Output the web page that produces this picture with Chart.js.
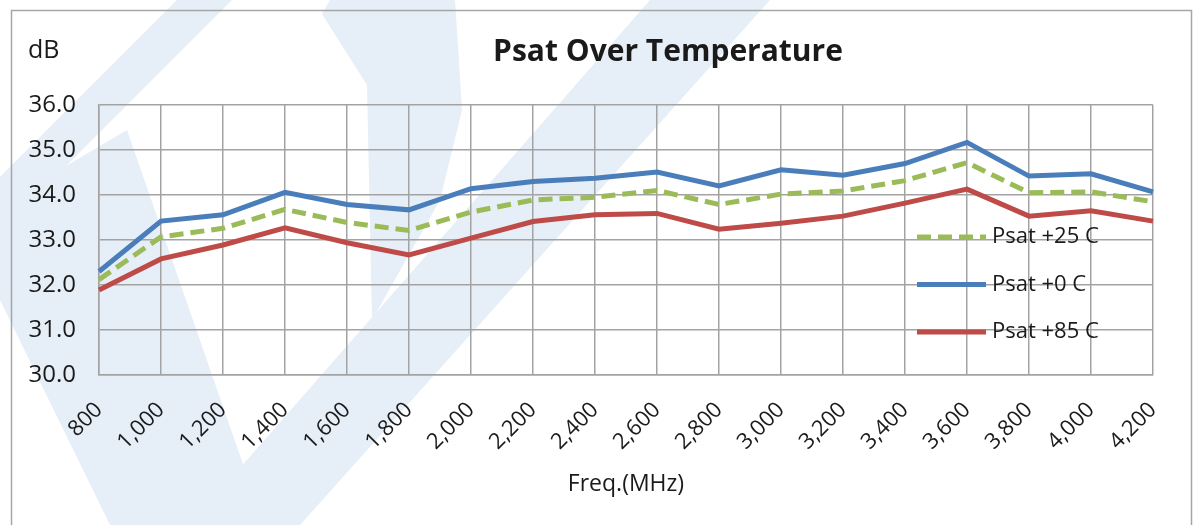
<!DOCTYPE html>
<html>
<head>
<meta charset="utf-8">
<script src="https://cdn.jsdelivr.net/npm/chart.js@4/dist/chart.umd.min.js"></script>
<style>
  html, body { margin: 0; padding: 0; background: #fff; }
  #wrap { position: absolute; left: 0; top: 0; width: 1204px; height: 525px; }
</style>
</head>
<body>
<div id="wrap"><canvas id="chart"></canvas></div>
<script>
// frequency points (MHz)
const freqs = [800, 1000, 1200, 1400, 1600, 1800, 2000, 2200, 2400, 2600, 2800, 3000, 3200, 3400, 3600, 3800, 4000, 4200];

// Psat (dB)
const psat25 = [32.12, 33.07, 33.26, 33.68, 33.39, 33.21, 33.62, 33.89, 33.95, 34.10, 33.79, 34.02, 34.09, 34.32, 34.72, 34.05, 34.07, 33.85];
const psat0  = [32.30, 33.42, 33.56, 34.06, 33.79, 33.67, 34.14, 34.30, 34.37, 34.51, 34.20, 34.56, 34.44, 34.70, 35.17, 34.42, 34.47, 34.07];
const psat85 = [31.89, 32.58, 32.89, 33.27, 32.94, 32.67, 33.04, 33.41, 33.56, 33.59, 33.24, 33.37, 33.53, 33.82, 34.13, 33.53, 33.65, 33.42];

const seriesNames = ['Psat +25 C', 'Psat +0 C', 'Psat +85 C'];
const yTicks = [30, 31, 32, 33, 34, 35, 36];

const FONT = "'Open Sans', 'Noto Sans', sans-serif";
const textColor = '#1a1a1a';
const gridColor = '#a3a3a3';
const wmColor = '#e6eef7';

// faint logo watermark + outer frame, drawn behind everything
const backdrop = {
    id: 'backdrop',
    beforeDraw(chart) {
        const ctx = chart.ctx;
        const polys = [
            [[177,0],[232,0],[0,232],[0,177]],
            [[0,205],[127,130],[245,470],[285,525],[110,525],[0,300]],
            [[650,0],[770,0],[300,525],[190,525]],
            [[330,0],[455,0],[462,110],[440,200],[372,320],[367,85],[322,14]]
        ];
        ctx.save();
        ctx.fillStyle = wmColor;
        polys.forEach(p => {
            ctx.beginPath();
            p.forEach((pt, i) => i ? ctx.lineTo(pt[0], pt[1]) : ctx.moveTo(pt[0], pt[1]));
            ctx.closePath();
            ctx.fill();
        });
        ctx.strokeStyle = '#a6a6a6';
        ctx.lineWidth = 1.5;
        ctx.strokeRect(11.5, 10.5, 1180, 540);
        ctx.restore();
    }
};

// title, unit label and the in-plot legend
const overlay = {
    id: 'overlay',
    afterDraw(chart) {
        const ctx = chart.ctx;
        const area = chart.chartArea;
        ctx.save();
        ctx.fillStyle = textColor;
        ctx.textBaseline = 'middle';
        ctx.textAlign = 'center';
        ctx.font = 'bold 30px ' + FONT;
        ctx.fillText('Psat Over Temperature', area.left + (area.right - area.left) / 2 + 42, 52);
        ctx.textAlign = 'left';
        ctx.font = '25px ' + FONT;
        ctx.fillText('dB', 28, 51);

        ctx.font = '22px ' + FONT;
        chart.data.datasets.forEach((ds, i) => {
            const y = area.top + 132 + i * 47.5;
            const x0 = area.right - 236;
            ctx.beginPath();
            ctx.strokeStyle = ds.borderColor;
            ctx.lineWidth = ds.borderWidth;
            ctx.setLineDash(ds.borderDash || []);
            ctx.moveTo(x0, y);
            ctx.lineTo(x0 + 69, y);
            ctx.stroke();
            ctx.setLineDash([]);
            ctx.fillStyle = textColor;
            ctx.fillText(ds.label, area.right - 161, y);
        });
        ctx.restore();
    }
};

const chartConfig = {
    type: 'line',
    data: {
        labels: freqs.map(f => f.toLocaleString('en-US')),
        datasets: [
            {
                label: seriesNames[0],
                data: psat25,
                borderColor: '#9bbb59',
                borderWidth: 5,
                borderDash: [14, 7],
                pointRadius: 0,
                tension: 0
            },
            {
                label: seriesNames[1],
                data: psat0,
                borderColor: '#4a7ebb',
                borderWidth: 5,
                pointRadius: 0,
                tension: 0
            },
            {
                label: seriesNames[2],
                data: psat85,
                borderColor: '#be4b48',
                borderWidth: 5,
                pointRadius: 0,
                tension: 0
            }
        ]
    },
    options: {
        responsive: true,
        maintainAspectRatio: false,
        animation: false,
        layout: { padding: { left: 0, top: 105, right: 51, bottom: 0 } },
        plugins: {
            legend: { display: false },
            title: { display: false },
            tooltip: { enabled: false }
        },
        scales: {
            x: {
                type: 'category',
                offset: false,
                grid: { color: gridColor, lineWidth: 1.5, drawTicks: false },
                border: { color: gridColor, width: 1.5 },
                ticks: {
                    color: textColor,
                    font: { family: FONT, size: 22 },
                    minRotation: 45,
                    maxRotation: 45,
                    padding: 22,
                    autoSkip: false
                },
                title: {
                    display: true,
                    text: 'Freq.(MHz)',
                    color: textColor,
                    font: { family: FONT, size: 23 },
                    padding: { top: 0, bottom: 27 }
                },
                afterFit: (scale) => { scale.height = 150; }
            },
            y: {
                min: yTicks[0],
                max: yTicks[yTicks.length - 1],
                afterBuildTicks: (scale) => { scale.ticks = yTicks.map(v => ({ value: v })); },
                grid: { color: gridColor, lineWidth: 1.5, drawTicks: false },
                border: { color: gridColor, width: 1.5 },
                ticks: {
                    color: textColor,
                    font: { family: FONT, size: 24 },
                    padding: 23,
                    callback: (v) => Number(v).toFixed(1)
                },
                afterFit: (scale) => { scale.width = 99; }
            }
        }
    },
    plugins: [backdrop, overlay]
};

new Chart(document.getElementById('chart'), chartConfig);
</script>
</body>
</html>
